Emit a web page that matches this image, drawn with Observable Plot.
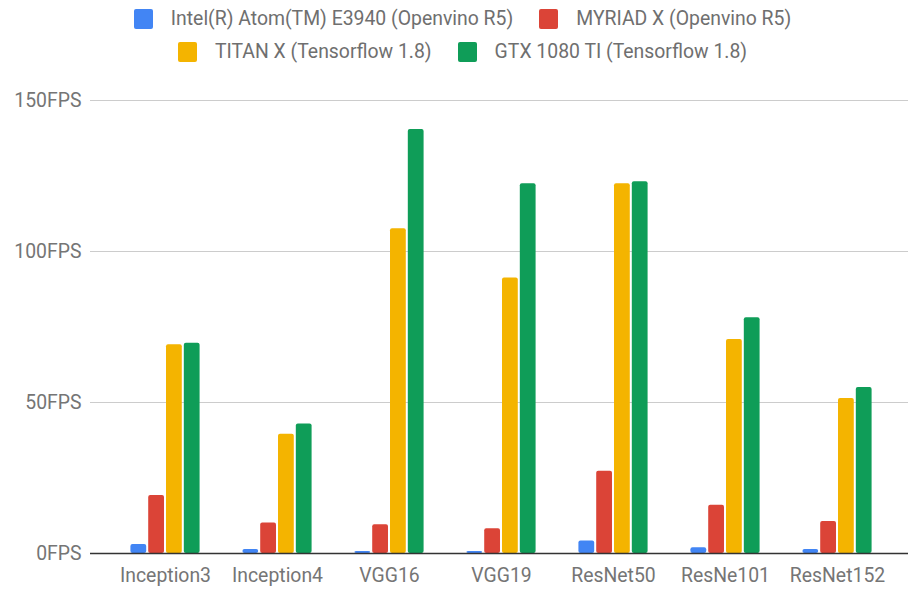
<!DOCTYPE html>
<html>
<head>
<meta charset="utf-8">
<script src="https://cdn.jsdelivr.net/npm/d3@7"></script>
<script src="https://cdn.jsdelivr.net/npm/@observablehq/plot@0.6"></script>
<style>
  html, body { margin: 0; padding: 0; background: #fff; }
  body { width: 908px; height: 589px; overflow: hidden; font-family: Roboto, sans-serif; }
  .legend { height: 72px; box-sizing: border-box; padding-top: 5px; padding-left: 17px; }
  .row { display: flex; justify-content: center; align-items: center; gap: 26px; height: 27px; margin-bottom: 6px; }
  .item { display: flex; align-items: center; font-size: 19.4px; color: #6f6f6f; }
  .sw { width: 19px; height: 20px; border-radius: 2px; margin-right: 18px; }
</style>
</head>
<body>
<div class="legend" id="legend"></div>
<div id="chart"></div>
<script>
const models = ["Inception3", "Inception4", "VGG16", "VGG19", "ResNet50", "ResNe101", "ResNet152"];
const series = [
  "Intel(R) Atom(TM) E3940 (Openvino R5)",
  "MYRIAD X (Openvino R5)",
  "TITAN X (Tensorflow 1.8)",
  "GTX 1080 TI (Tensorflow 1.8)"
];
const colors = ["#4285F4", "#DB4437", "#F4B400", "#0F9D58"];
const atom   = [3.0, 1.3, 0.7, 0.7, 4.1, 1.9, 1.3];
const myriad = [19.2, 10.1, 9.5, 8.2, 27.2, 16.0, 10.6];
const titan  = [69.1, 39.5, 107.5, 91.2, 122.4, 70.9, 51.3];
const gtx    = [69.6, 42.9, 140.4, 122.4, 123.1, 78.1, 55.0];
const yTicks = [0, 50, 100, 150];

const values = [atom, myriad, titan, gtx];
const data = [];
series.forEach((s, i) => models.forEach((m, j) => data.push({model: m, series: s, value: values[i][j], idx: i})));

// legend
const legendRows = [[0, 1], [2, 3]];
const legend = document.getElementById("legend");
legendRows.forEach(r => {
  const row = document.createElement("div");
  row.className = "row";
  r.forEach(i => {
    const it = document.createElement("div");
    it.className = "item";
    it.innerHTML = `<div class="sw" style="background:${colors[i]}"></div><span>${series[i]}</span>`;
    row.appendChild(it);
  });
  legend.appendChild(row);
});

const W = 908, H = 517, mL = 90, mR = 0;
const po = 0.1448;
const step = (W - mL - mR) / (models.length + 2 * po);
const barW = 16, gap = 1.8;
const groupW = 4 * barW + 3 * gap;
const off0 = (step - groupW) / 2;

const barMarks = series.map((s, i) => {
  const left = off0 + i * (barW + gap);
  return Plot.barY(data.filter(d => d.idx === i), {
    x: "model", y: "value", fill: colors[i],
    insetLeft: left, insetRight: step - left - barW, rx: 2
  });
});

const plot = Plot.plot({
  width: W, height: H,
  marginLeft: mL, marginRight: mR, marginTop: 28, marginBottom: 36,
  style: {fontFamily: "Roboto, sans-serif", fontSize: "19.4px", color: "#757575", background: "#fff"},
  x: {domain: models, paddingInner: 0, paddingOuter: po, align: 0.572, label: null, tickSize: 0, tickPadding: 15},
  y: {domain: [0, 150], ticks: yTicks, label: null},
  marks: [
    Plot.ruleY(yTicks.slice(1), {stroke: "#cccccc", strokeWidth: 1}),
    ...barMarks,
    Plot.ruleY([0], {stroke: "#333", strokeWidth: 1.3}),
    Plot.axisY({ticks: yTicks, tickSize: 0, tickPadding: 9, tickFormat: d => d + "FPS", label: null, fill: "#757575"}),
    Plot.axisX({tickSize: 0, tickPadding: 15, label: null, fill: "#757575"})
  ]
});
document.getElementById("chart").appendChild(plot);
</script>
</body>
</html>
